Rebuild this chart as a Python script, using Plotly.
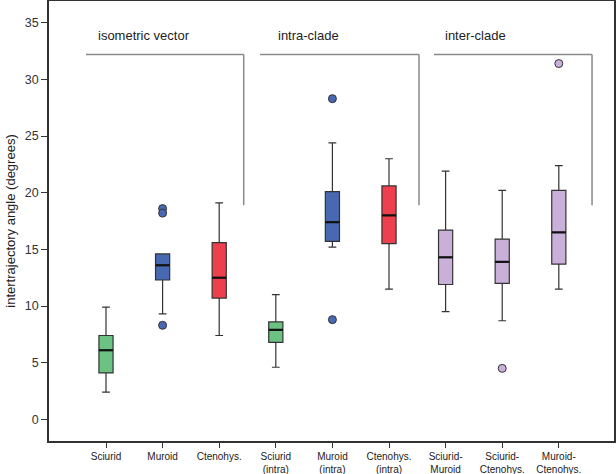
import plotly.graph_objects as go

categories = ["Sciurid", "Muroid", "Ctenohys.", "Sciurid<br>(intra)", "Muroid<br>(intra)",
              "Ctenohys.<br>(intra)", "Sciurid-<br>Muroid", "Sciurid-<br>Ctenohys.", "Muroid-<br>Ctenohys."]
lower_whisker = [2.4, 9.3, 7.4, 4.6, 15.2, 11.5, 9.5, 8.7, 11.5]
q1 = [4.1, 12.3, 10.7, 6.8, 15.7, 15.5, 11.9, 12.0, 13.7]
median = [6.1, 13.6, 12.5, 7.9, 17.4, 18.0, 14.3, 13.9, 16.5]
q3 = [7.4, 14.6, 15.6, 8.6, 20.1, 20.6, 16.7, 15.9, 20.2]
upper_whisker = [9.9, 14.6, 19.1, 11.0, 24.4, 23.0, 21.9, 20.2, 22.4]
outliers = [[], [18.6, 18.2, 8.3], [], [], [28.3, 8.8], [], [], [4.5], [31.4]]
colors = ["#6cc283", "#4868b2", "#ee404c", "#6cc283", "#4868b2", "#ee404c",
          "#c9b0d8", "#c9b0d8", "#c9b0d8"]

groups = ["isometric vector", "intra-clade", "inter-clade"]

fig = go.Figure()
xs = list(range(len(categories)))
bw = 0.25
for i in xs:
    fig.add_trace(go.Box(
        x=[i], q1=[q1[i]], median=[median[i]], q3=[q3[i]],
        lowerfence=[lower_whisker[i]], upperfence=[upper_whisker[i]],
        width=bw, whiskerwidth=0.55, fillcolor=colors[i],
        line=dict(color="#333333", width=1.2), boxpoints=False,
        showlegend=False, hoverinfo="skip"))
    # thicker black median
    fig.add_trace(go.Scatter(
        x=[i - bw / 2, i + bw / 2], y=[median[i], median[i]], mode="lines",
        line=dict(color="#111111", width=2.2), showlegend=False, hoverinfo="skip"))
    if outliers[i]:
        fig.add_trace(go.Scatter(
            x=[i] * len(outliers[i]), y=outliers[i], mode="markers",
            marker=dict(size=8, color=colors[i], line=dict(color="#333333", width=1)),
            showlegend=False, hoverinfo="skip"))

# group brackets
brackets = [(-0.353, 2.433), (2.72, 5.53), (5.795, 8.587)]
text_x = [-0.17, 3.01, 5.96]
top_y, bot_y = 32.2, 18.9
for (x0, x1), tx, g in zip(brackets, text_x, groups):
    fig.add_shape(type="line", x0=x0, x1=x1, y0=top_y, y1=top_y, xref="x", yref="y",
                  line=dict(color="#8a8a8a", width=1.5))
    fig.add_shape(type="line", x0=x1, x1=x1, y0=top_y, y1=bot_y, xref="x", yref="y",
                  line=dict(color="#8a8a8a", width=1.5))
    fig.add_annotation(x=tx, y=33.9, text=g, showarrow=False, xref="x", yref="y",
                       xanchor="left", yanchor="middle",
                       font=dict(family="Liberation Sans, Arial", size=13, color="#222222"))

fig.update_layout(
    width=616, height=474,
    margin=dict(l=49, r=2, t=1, b=33, autoexpand=False),
    plot_bgcolor="white", paper_bgcolor="white",
    font=dict(family="Liberation Sans, Arial", color="#222222"),
)
fig.update_xaxes(
    range=[-1.007, 8.975], tickmode="array", tickvals=xs, ticktext=categories,
    ticks="outside", ticklen=5, tickcolor="#333333", tickwidth=1.2,
    tickfont=dict(size=10, color="#222222"),
    showline=True, linecolor="#333333", linewidth=1.5, mirror=True,
    showgrid=False, zeroline=False)
fig.update_yaxes(
    range=[-1.91, 36.92], tickvals=[0, 5, 10, 15, 20, 25, 30, 35],
    ticks="outside", ticklen=6, tickcolor="#333333", tickwidth=1.2,
    tickfont=dict(size=12.5, color="#333333"),
    showline=True, linecolor="#333333", linewidth=1.5, mirror=True,
    showgrid=False, zeroline=False,
    title=dict(text="intertrajectory angle (degrees)", font=dict(size=13, color="#222222"),
               standoff=6))

fig.write_html("out.html", config={"displayModeBar": False},
               post_script="document.body.style.margin='0';")
